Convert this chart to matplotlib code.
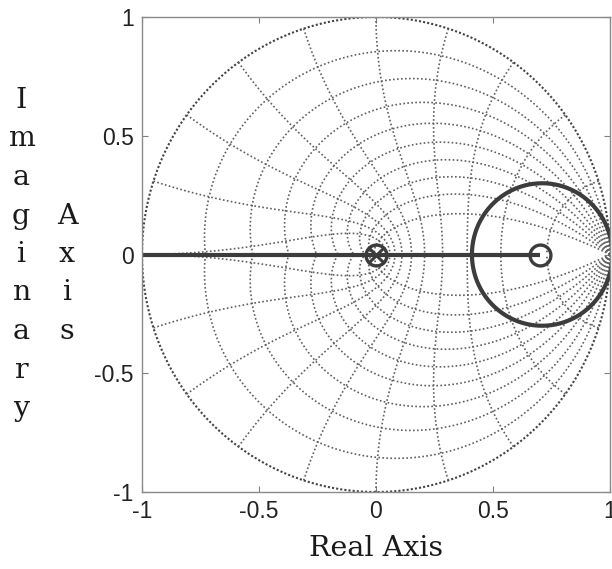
import numpy as np
import matplotlib
matplotlib.use("Agg")
import matplotlib.pyplot as plt

# z-plane grid: damping ratios and natural frequencies (fractions of pi/T)
zeta_values = [0.1, 0.2, 0.3, 0.4, 0.5, 0.6, 0.7, 0.8, 0.9]
wn_fractions = [0.1, 0.2, 0.3, 0.4, 0.5, 0.6, 0.7, 0.8, 0.9, 1.0]

# root locus branches
real_branch = [-1.0, 0.7]          # real-axis segment (start, end)
circle_center = 0.71               # complex branch circle centre on real axis
circle_radius = 0.30
pole_locations = [0.0]
zero_locations = [0.0, 0.7]

x_ticks = [-1, -0.5, 0, 0.5, 1]
y_ticks = [-1, -0.5, 0, 0.5, 1]
x_tick_labels = ["-1", "-0.5", "0", "0.5", "1"]
y_tick_labels = ["-1", "-0.5", "0", "0.5", "1"]

fig = plt.figure(figsize=(6.12, 5.69), dpi=100)
ax = fig.add_axes([142 / 612, 1 - 492 / 569, 468 / 612, 475 / 569])

grid_color = "#606060"
grid_kw = dict(color=grid_color, linestyle=(0, (1, 1.4)), linewidth=1.2)

# unit circle
t = np.linspace(0, 2 * np.pi, 400)
ax.plot(np.cos(t), np.sin(t), color="#444444", linestyle=(0, (1, 1.0)), linewidth=1.5)

# constant damping curves
theta = np.linspace(0, np.pi, 200)
for z in zeta_values:
    m = z / np.sqrt(1 - z ** 2)
    zz = np.exp(theta * (-m + 1j))
    ax.plot(zz.real, zz.imag, **grid_kw)
    ax.plot(zz.real, -zz.imag, **grid_kw)

# constant natural-frequency curves
phi = np.linspace(np.pi / 2, np.pi, 120)
for f in wn_fractions:
    wn = f * np.pi
    zz = np.exp(wn * np.exp(1j * phi))
    ax.plot(zz.real, zz.imag, **grid_kw)
    ax.plot(zz.real, -zz.imag, **grid_kw)

# root locus
locus_color = "#3c3c3c"
ax.plot(real_branch, [0, 0], color=locus_color, linewidth=3.0, solid_capstyle="butt")
ax.plot(circle_center + circle_radius * np.cos(t), circle_radius * np.sin(t),
        color=locus_color, linewidth=3.0)

ax.plot(pole_locations, [0] * len(pole_locations), linestyle="none", marker="x",
        markersize=10, markeredgewidth=2.2, color=locus_color)
ax.plot(zero_locations, [0] * len(zero_locations), linestyle="none", marker="o",
        markersize=15, markeredgewidth=2.4, markerfacecolor="none",
        markeredgecolor=locus_color)

ax.set_xlim(-1, 1)
ax.set_ylim(-1, 1)
ax.set_xticks(x_ticks)
ax.set_xticklabels(x_tick_labels)
ax.set_yticks(y_ticks)
ax.set_yticklabels(y_tick_labels)
ax.tick_params(direction="in", length=4, width=0.8, color="#808080",
               top=True, right=True, labelsize=16.5, pad=6)
for lbl in ax.get_xticklabels() + ax.get_yticklabels():
    lbl.set_fontfamily("Liberation Sans")
    lbl.set_color("#222222")
for s in ax.spines.values():
    s.set_color("#8a8a8a")
    s.set_linewidth(1.0)

serif = "DejaVu Serif"
fig.text(376 / 612, 1 - 548 / 569, "Real Axis", ha="center", va="center",
         fontsize=20.5, family=serif, color="#1a1a1a")

# vertical y-axis label, one letter per line
step = 38.5
for i, ch in enumerate("Imaginary"):
    fig.text(21 / 612, 1 - (108 + i * step) / 569, ch, ha="center", va="baseline",
             fontsize=20.5, family=serif, color="#1a1a1a")
for i, ch in enumerate("Axis"):
    fig.text(67 / 612, 1 - (108 + (i + 3) * step) / 569, ch, ha="center", va="baseline",
             fontsize=20.5, family=serif, color="#1a1a1a")

fig.savefig("out.png", dpi=100, facecolor="white")
